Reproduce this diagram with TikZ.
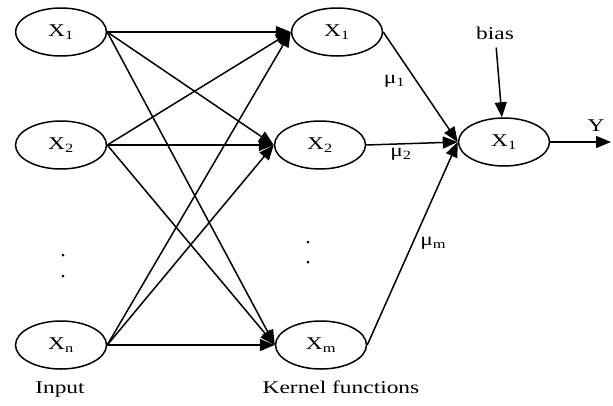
\documentclass[tikz,border=0pt]{standalone}
\usepackage{fontspec}
\setmainfont{Liberation Serif}[FakeStretch=1.3]
\usepackage{xcolor}
\usepackage{tikz}
\usetikzlibrary{positioning,arrows.meta,shapes.geometric}

\tikzset{
  neuron/.style={draw,ellipse,minimum width=91pt,minimum height=48pt,inner sep=0pt,line width=1.5pt},
  conn/.style={line width=1.5pt,-{Triangle[length=15pt,width=12pt]}},
  lbl/.style={inner sep=1pt}
}

\begin{document}
\begin{tikzpicture}[x=1pt,y=-1pt,font=\fontsize{18}{20}\selectfont]
\useasboundingbox (0,0) rectangle (613,405);
% input layer
\node[neuron] (in1) at (61,32) {X\textsubscript{1}};
\node[neuron] (in2) at (61,145) {X\textsubscript{2}};
\node[neuron] (inn) at (61,345) {X\textsubscript{n}};
% kernel layer
\node[neuron] (k1) at (337,32) {X\textsubscript{1}};
\node[neuron] (k2) at (320,145) {X\textsubscript{2}};
\node[neuron] (km) at (321,345) {X\textsubscript{m}};
% output
\node[neuron] (out) at (504,142) {X\textsubscript{1}};
\node[lbl,inner ysep=8pt] (bias) at (495,33) {bias};
\node[lbl] (ylbl) at (596,126) {Y};
\coordinate (yend) at (611,142);

\foreach \i in {in1,in2,inn} {
  \foreach \k in {k1,k2,km} {
    \draw[conn] (\i.east) -- (\k.west);
  }
}
\draw[conn] (k1.east) -- (out.west) node[lbl,pos=0.45,left=10pt] (mu1) {μ\textsubscript{1}};
\draw[conn] (k2.east) -- (out.west) node[lbl,pos=0.38,below=3pt] (mu2) {μ\textsubscript{2}};
\draw[conn] (km.east) -- (out.west) node[lbl,pos=0.5,right=6pt] (mum) {μ\textsubscript{m}};
\draw[conn] (bias) -- (out);
\draw[conn] (out.east) -- (yend);

% dots
\foreach \y in {255,276} \fill (63,\y) circle (1.5pt);
\foreach \y in {242,262} \fill (308,\y) circle (1.5pt);

\node[lbl] (inlbl) at (60,390) {Input};
\node[lbl] (klbl) at (341,387) {Kernel functions};
\end{tikzpicture}
\end{document}
